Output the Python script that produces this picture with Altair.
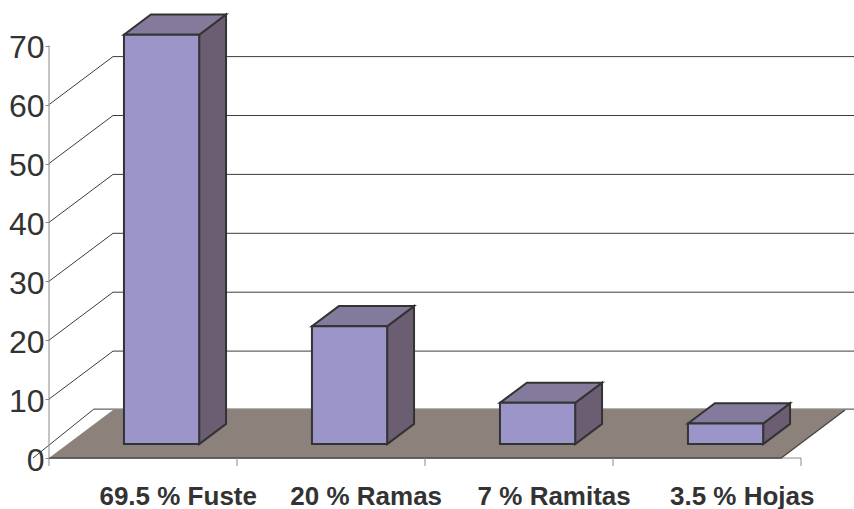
import altair as alt
import pandas as pd

# ---- data -------------------------------------------------------------
categories = ["69.5 % Fuste", "20 % Ramas", "7 % Ramitas", "3.5 % Hojas"]
values = [69.5, 20, 7, 3.5]
y_ticks = [0, 10, 20, 30, 40, 50, 60, 70]

# ---- layout (pixels) -------------------------------------------------
LEFT = 49             # room for the value labels
PLOT_W = 805
PLOT_H = 458
BOTTOM = 51           # room for the category labels
CAT_PX = 188          # width of one category slot on the front plane
PX_PER_UNIT = 5.89    # pixels per value unit
DEPTH_DX = 64         # oblique depth of floor and wall
DEPTH_DY = 48

X_MAX = PLOT_W / CAT_PX
Y_MAX = PLOT_H / PX_PER_UNIT
DXU = DEPTH_DX / CAT_PX          # depth step in category units
DYU = DEPTH_DY / PX_PER_UNIT     # depth step in value units

BAR_L, BAR_R = 0.30, 0.70        # bar extent inside its slot
F_FRONT, F_BACK = 0.29, 0.71     # bar depth range (fraction of floor depth)
FLOOR_W = len(categories) - 0.106
TICK_LEN = 8 / PX_PER_UNIT

# ---- colours -----------------------------------------------------------
FRONT = "#9b95c9"
TOP = "#847a9b"
SIDE = "#6b5e73"
FLOOR = "#8c817b"
EDGE = "#333333"
GRID = "#3d3d3d"
AXIS = "#8a8a8a"
TEXT = "#333333"
FONT = "Liberation Sans"

xs = alt.Scale(domain=[0, X_MAX], nice=False, zero=False)
ys = alt.Scale(domain=[0, Y_MAX], nice=False, zero=False)
yaxis = alt.Axis(values=y_ticks, title=None, domain=False, grid=False,
                 ticks=True, tickSize=4, tickColor=AXIS, tickWidth=1,
                 labelFont=FONT, labelFontSize=32, labelColor=TEXT,
                 labelPadding=1, labelOffset=2, labelOverlap=False,
                 labelFlush=False)


def X(f):
    return alt.X(f"{f}:Q", scale=xs, axis=None, stack=None)


def Y(f):
    return alt.Y(f"{f}:Q", scale=ys, axis=yaxis, stack=None)


# ---- floor -----------------------------------------------------------
floor_df = pd.DataFrame({"y": [0, DYU], "x": [0, DXU],
                         "x2": [FLOOR_W, FLOOR_W + DXU]})
floor = alt.Chart(floor_df).mark_area(orient="horizontal", color=FLOOR).encode(
    y=Y("y"), x=X("x"), x2="x2:Q")

floor_edge_df = pd.DataFrame({"x": [0, FLOOR_W, FLOOR_W + DXU],
                              "y": [0, 0, DYU], "o": [0, 1, 2]})
floor_edge = alt.Chart(floor_edge_df).mark_line(color="#4a4a4a", strokeWidth=1.5).encode(
    x=X("x"), y=Y("y"), order="o:Q")

# ---- back wall grid lines (the top level lies above the view) ----------
grid_rows = []
for lvl in y_ticks[:-1]:
    if lvl == 0:
        pts = [(-0.25 * DXU, 0), (0.7 * DXU, DYU + 0.15), (X_MAX, DYU + 0.15)]
    else:
        pts = [(0, lvl), (DXU, lvl + DYU), (X_MAX, lvl + DYU)]
    for o, (px, py) in enumerate(pts):
        grid_rows.append({"lvl": lvl, "o": o, "x": px, "y": py})
grid = alt.Chart(pd.DataFrame(grid_rows)).mark_line(color=GRID, strokeWidth=1).encode(
    x=X("x"), y=Y("y"), detail="lvl:N", order="o:Q")

# ---- axes lines and ticks --------------------------------------------
yline = alt.Chart(pd.DataFrame({"x": [0], "y": [0], "y2": [max(y_ticks)]})).mark_rule(
    color=AXIS, strokeWidth=1).encode(x=X("x"), y=Y("y"), y2="y2:Q")
xline = alt.Chart(pd.DataFrame({"x": [0], "x2": [len(categories)], "y": [0]})).mark_rule(
    color=AXIS, strokeWidth=1).encode(x=X("x"), x2="x2:Q", y=Y("y"))
xticks = alt.Chart(pd.DataFrame({"x": list(range(len(categories) + 1)),
                                 "y": 0.0, "y2": -TICK_LEN})).mark_rule(
    color=AXIS, strokeWidth=1).encode(x=X("x"), y=Y("y"), y2="y2:Q")

# ---- 3D bars -----------------------------------------------------------
front_rows, top_rows, side_rows = [], [], []
for i, (c, v) in enumerate(zip(categories, values)):
    xl, xr = i + BAR_L, i + BAR_R
    front_rows.append({"cat": c, "x": xl + F_FRONT * DXU, "x2": xr + F_FRONT * DXU,
                       "y": F_FRONT * DYU, "y2": v + F_FRONT * DYU})
    for f in (F_FRONT, F_BACK):
        top_rows.append({"cat": c, "y": v + f * DYU,
                         "x": xl + f * DXU, "x2": xr + f * DXU})
        side_rows.append({"cat": c, "x": xr + f * DXU,
                          "y": f * DYU, "y2": v + f * DYU})

side = alt.Chart(pd.DataFrame(side_rows)).mark_area(
    orient="vertical", fill=SIDE, stroke=EDGE, strokeWidth=2, strokeJoin="miter").encode(
    x=X("x"), y=Y("y"), y2="y2:Q", detail="cat:N")
top = alt.Chart(pd.DataFrame(top_rows)).mark_area(
    orient="horizontal", fill=TOP, stroke=EDGE, strokeWidth=2, strokeJoin="miter").encode(
    y=Y("y"), x=X("x"), x2="x2:Q", detail="cat:N")
front = alt.Chart(pd.DataFrame(front_rows)).mark_rect(
    fill=FRONT, stroke=EDGE, strokeWidth=2).encode(
    x=X("x"), x2="x2:Q", y=Y("y"), y2="y2:Q")

# ---- category labels ---------------------------------------------------
label_df = pd.DataFrame({"cat": categories,
                         "x": [i + 0.5 + 0.55 * DXU for i in range(len(categories))],
                         "y": 0.0})
labels = alt.Chart(label_df).mark_text(
    font=FONT, fontSize=26, fontWeight="bold", color=TEXT,
    align="center", baseline="alphabetic", dy=46.5).encode(
    x=X("x"), y=Y("y"), text="cat:N")

chart = alt.layer(
    grid, floor, xline, floor_edge, xticks, yline, side, top, front, labels
).properties(
    width=PLOT_W, height=PLOT_H,
    padding={"left": LEFT, "top": 0, "right": 0, "bottom": BOTTOM},
    autosize=alt.AutoSizeParams(type="none"),
    background="white",
).configure_view(stroke=None)

chart.save("out.html", embed_options={"renderer": "svg", "actions": False})
